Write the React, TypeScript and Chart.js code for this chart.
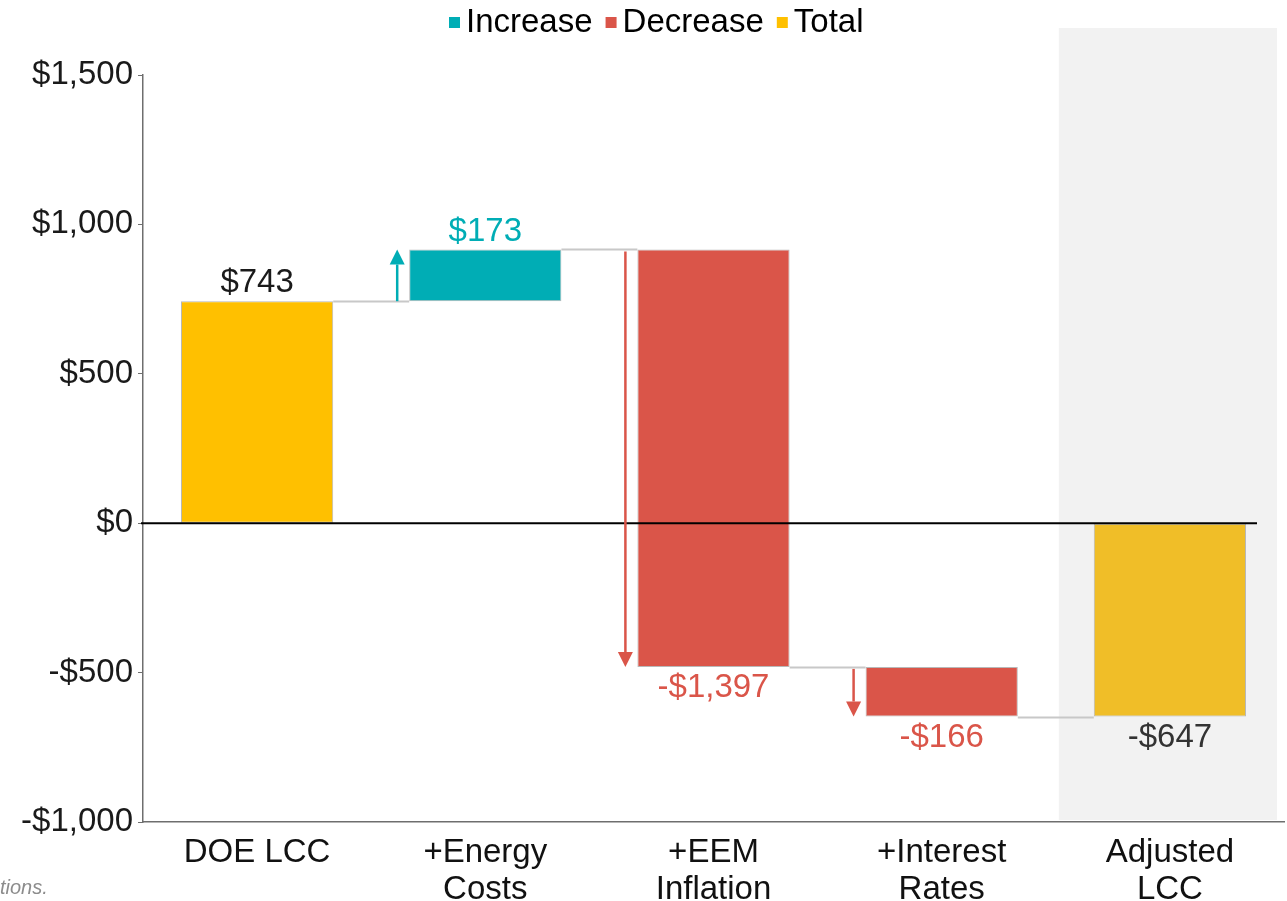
import React, { useEffect, useRef } from "react";
import { Chart, registerables } from "chart.js";

Chart.register(...registerables);

// Waterfall: DOE life-cycle cost adjusted step by step
const categories: string[][] = [
  ["DOE LCC"],
  ["+Energy", "Costs"],
  ["+EEM", "Inflation"],
  ["+Interest", "Rates"],
  ["Adjusted", "LCC"],
];
const baseLcc = 743;
const stepValues = [173, -1397, -166];
const adjustedLcc = -647;
const yMin = -1000;
const yMax = 1500;
const yStep = 500;
const legendLabels = ["Increase", "Decrease", "Total"];
const footnote = "tions.";

const TEAL = "#00ADB5";
const RED = "#DA5549";
const GOLD = "#FFC000";
const GOLD_END = "#F0BE28";
const FONT = "'Liberation Sans', Arial, Helvetica, sans-serif";

const fmtMoney = (v: number) =>
  (v < 0 ? "-$" : "$") + Math.abs(v).toLocaleString("en-US");

// floating ranges built from the running total
const n = categories.length;
const totalRanges: ([number, number] | null)[] = Array(n).fill(null);
const increaseRanges: ([number, number] | null)[] = Array(n).fill(null);
const decreaseRanges: ([number, number] | null)[] = Array(n).fill(null);
const levels: number[] = [baseLcc];
totalRanges[0] = [0, baseLcc];
let running = baseLcc;
stepValues.forEach((s, i) => {
  const r: [number, number] = [running, running + s];
  if (s >= 0) increaseRanges[i + 1] = r;
  else decreaseRanges[i + 1] = r;
  running += s;
  levels.push(running);
});
totalRanges[n - 1] = [0, adjustedLcc];

const labelValues = [baseLcc, ...stepValues, adjustedLcc];
const labelColors = [
  "#1a1a1a",
  ...stepValues.map((s) => (s >= 0 ? TEAL : RED)),
  "#333333",
];

function barAt(chart: any, index: number) {
  for (let d = 0; d < chart.data.datasets.length; d++) {
    const ds = chart.data.datasets[d];
    if (ds.data[index] != null) return chart.getDatasetMeta(d).data[index];
  }
  return null;
}

const waterfallDecor = {
  id: "waterfallDecor",
  beforeDraw(chart: any) {
    const { ctx, chartArea, scales } = chart;
    const xs = scales.x;
    const last = xs.getPixelForValue(n - 1);
    const half = (xs.getPixelForValue(1) - xs.getPixelForValue(0)) / 2;
    ctx.save();
    ctx.fillStyle = "#F2F2F2";
    const left = last - half + 3;
    ctx.fillRect(left, 28, chartArea.right - 7 - left, chartArea.bottom - 2 - 28);
    ctx.restore();
  },
  afterDatasetsDraw(chart: any) {
    const { ctx, chartArea, scales } = chart;
    const ys = scales.y;
    ctx.save();

    // connectors between consecutive bars
    ctx.strokeStyle = "#C8C8C8";
    ctx.lineWidth = 2;
    for (let i = 0; i < n - 1; i++) {
      const a = barAt(chart, i);
      const b = barAt(chart, i + 1);
      if (!a || !b) continue;
      const y = Math.round(ys.getPixelForValue(levels[i])) + 0.5;
      ctx.beginPath();
      ctx.moveTo(a.x + a.width / 2, y);
      ctx.lineTo(b.x - b.width / 2, y);
      ctx.stroke();
    }

    // zero line
    const y0 = ys.getPixelForValue(0);
    ctx.strokeStyle = "#000";
    ctx.lineWidth = 2;
    ctx.beginPath();
    ctx.moveTo(chartArea.left - 2, y0);
    ctx.lineTo(chartArea.right - 27, y0);
    ctx.stroke();

    // direction arrows beside each step
    stepValues.forEach((s, i) => {
      const bar = barAt(chart, i + 1);
      if (!bar) return;
      const x = bar.x - bar.width / 2 - 12;
      const ya = ys.getPixelForValue(levels[i]) + (s < 0 ? 2 : 0);
      const yb = ys.getPixelForValue(levels[i + 1]);
      const dir = yb < ya ? -1 : 1;
      const head = 15;
      const color = s >= 0 ? TEAL : RED;
      ctx.strokeStyle = color;
      ctx.fillStyle = color;
      ctx.lineWidth = 2.5;
      ctx.beginPath();
      ctx.moveTo(x, ya);
      ctx.lineTo(x, yb - dir * head);
      ctx.stroke();
      ctx.beginPath();
      ctx.moveTo(x, yb);
      ctx.lineTo(x - 7.5, yb - dir * head);
      ctx.lineTo(x + 7.5, yb - dir * head);
      ctx.closePath();
      ctx.fill();
    });

    // value labels
    ctx.font = `33px ${FONT}`;
    ctx.textAlign = "center";
    ctx.textBaseline = "middle";
    labelValues.forEach((v, i) => {
      const bar = barAt(chart, i);
      if (!bar) return;
      const top = Math.min(bar.y, bar.base);
      const bottom = Math.max(bar.y, bar.base);
      ctx.fillStyle = labelColors[i];
      const y = v >= 0 ? top - 18 : bottom + 21;
      ctx.fillText(fmtMoney(v), bar.x, y);
    });
    ctx.restore();
  },
  afterDraw(chart: any) {
    const { ctx } = chart;
    ctx.save();
    // legend
    ctx.font = `33px ${FONT}`;
    ctx.textBaseline = "middle";
    ctx.textAlign = "left";
    let x = 449;
    const cy = 23;
    chart.data.datasets.forEach((ds: any) => {
      const c = Array.isArray(ds.backgroundColor) ? ds.backgroundColor[0] : ds.backgroundColor;
      ctx.fillStyle = c;
      ctx.fillRect(x, cy - 6, 11, 11);
      x += 11 + 6;
      ctx.fillStyle = "#000";
      ctx.fillText(ds.label, x, cy);
      x += ctx.measureText(ds.label).width + 13;
    });
    // footnote
    ctx.font = `italic 20px ${FONT}`;
    ctx.fillStyle = "#8C8C8C";
    ctx.fillText(footnote, 0, 888);
    ctx.restore();
  },
};

export default function App() {
  const ref = useRef<HTMLCanvasElement>(null);
  useEffect(() => {
    if (!ref.current) return;
    const common = {
      borderColor: "#B8B8B8",
      borderWidth: 1,
      borderSkipped: false,
      grouped: false,
      categoryPercentage: 1,
      barPercentage: 0.667,
    };
    const chart = new Chart(ref.current, {
      type: "bar",
      data: {
        labels: categories,
        datasets: [
          { ...common, label: legendLabels[0], data: increaseRanges as any, backgroundColor: TEAL },
          { ...common, label: legendLabels[1], data: decreaseRanges as any, backgroundColor: RED },
          {
            ...common,
            label: legendLabels[2],
            data: totalRanges as any,
            backgroundColor: categories.map((_, i) => (i === n - 1 ? GOLD_END : GOLD)),
          },
        ],
      },
      options: {
        animation: false,
        responsive: true,
        maintainAspectRatio: false,
        layout: { padding: { top: 75, right: 3, left: 0, bottom: 0 } },
        plugins: {
          legend: { display: false },
          tooltip: { enabled: false },
        },
        scales: {
          x: {
            grid: { display: false, drawTicks: false },
            border: { display: true, color: "#6E6E6E", width: 1.5 },
            ticks: {
              color: "#111",
              font: { family: FONT, size: 33, lineHeight: 1.1 },
              padding: 13,
              autoSkip: false,
              maxRotation: 0,
            },
            afterFit: (s: any) => {
              s.height = 79;
            },
          },
          y: {
            min: yMin,
            max: yMax,
            grid: {
              display: true,
              drawOnChartArea: false,
              drawTicks: true,
              tickLength: 5,
              color: "#6E6E6E",
            },
            border: { display: true, color: "#6E6E6E", width: 1.5 },
            ticks: {
              stepSize: yStep,
              color: "#1a1a1a",
              font: { family: FONT, size: 33 },
              padding: 5,
              callback: (v: any) => fmtMoney(Number(v)),
            },
            afterFit: (s: any) => {
              s.width = 143;
            },
          },
        },
      },
      plugins: [waterfallDecor],
    });
    return () => chart.destroy();
  }, []);

  return (
    <div
      style={{
        position: "fixed",
        left: 0,
        top: 0,
        width: 1287,
        height: 901,
        background: "#fff",
      }}
    >
      <canvas ref={ref} />
    </div>
  );
}
